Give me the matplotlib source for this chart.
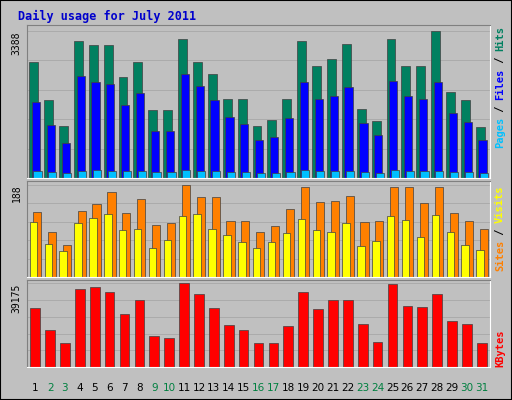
import numpy as np
import matplotlib.pyplot as plt

days = list(range(1, 32))
weekend = [2, 3, 9, 10, 16, 17, 23, 24, 30, 31]

hits = [2674, 1798, 1199, 3158, 3066, 3066, 2328, 2674, 1567, 1567, 3204, 2674, 2397, 1821, 1821, 1199,
        1337, 1821, 3158, 2582, 2743, 3089, 1590, 1314, 3204, 2582, 2582, 3388, 1982, 1798, 1176]
files = [1752, 1222, 807, 2351, 2213, 2167, 1683, 1959, 1083, 1083, 2397, 2121, 1798, 1406, 1245, 876,
         945, 1383, 2213, 1821, 1890, 2098, 1268, 991, 2236, 1890, 1821, 2213, 1498, 1291, 876]
pages = [160, 140, 120, 170, 180, 170, 150, 160, 130, 130, 190, 170, 160, 140, 140, 120,
         120, 140, 180, 160, 160, 170, 130, 120, 190, 160, 160, 170, 140, 140, 120]
visits = [132, 91, 66, 134, 149, 174, 130, 159, 105, 110, 188, 163, 163, 114, 114, 91,
          103, 138, 184, 153, 155, 165, 112, 114, 184, 184, 151, 184, 130, 114, 97]
sites = [112, 68, 52, 110, 120, 128, 95, 97, 60, 76, 124, 128, 97, 85, 72, 60,
         72, 89, 118, 95, 91, 110, 64, 74, 124, 116, 81, 126, 91, 66, 56]
kbytes = [27566, 17410, 11123, 36754, 37237, 35303, 24664, 31434, 14508, 13541, 39175, 34336, 27566,
          19828, 17410, 11123, 11123, 19344, 35303, 27082, 31434, 31434, 20311, 11606, 38688, 28532,
          28049, 34336, 21762, 20311, 11123]

W, H = 512, 400
bg = '#C0C0C0'
fig = plt.figure(figsize=(W / 100, H / 100), dpi=100, facecolor=bg)
mono = 'DejaVu Sans Mono'

def mkax(top, bottom, vmax):
    ax = fig.add_axes([27 / W, 1 - bottom / H, 463 / W, (bottom - top) / H], facecolor=bg)
    ax.set_xlim(0.45, 31.55)
    ax.set_ylim(0, vmax * 1.04)
    ax.set_xticks([])
    ax.set_yticks([])
    for y in np.linspace(0, vmax, 6)[1:]:
        ax.axhline(y, color='#a8a8a8', lw=0.6, zorder=0)
    for s in ax.spines.values():
        s.set_color('#808080')
    ax.spines['bottom'].set_color('white')
    ax.spines['right'].set_color('white')
    ax.text(-0.022, 1 - 0.04 * 1.0, str(vmax), transform=ax.transAxes, rotation=90,
            ha='center', va='top', fontsize=7, family=mono)
    return ax

x = np.array(days)
ek = dict(edgecolor='#404040', linewidth=0.5)

ax1 = mkax(25, 178, 3388)
ax1.bar(x - 0.1, hits, width=0.6, color='#008060', **ek)
ax1.bar(x + 0.05, files, width=0.55, color='#0000FF', **ek)
ax1.bar(x + 0.15, pages, width=0.55, color='#00C0FF', **ek)

ax2 = mkax(181, 277, 188)
ax2.bar(x + 0.12, visits, width=0.55, color='#FF8000', **ek)
ax2.bar(x - 0.12, sites, width=0.5, color='#FFFF00', **ek)

ax3 = mkax(280, 367, 39175)
ax3.bar(x, kbytes, width=0.65, color='#FF0000', **ek)

for d in days:
    fig.text((27 + 463 * (d - 0.45) / 31.1) / W, 1 - 388 / H, str(d), ha='center', va='center',
             fontsize=7.5, color='#008040' if d in weekend else 'black')

fig.text(18 / W, 1 - 16 / H, 'Daily usage for July 2011', color='#0000CC', fontsize=8.5,
         fontweight='bold', family=mono, va='center')

def side(parts, top, bottom):
    # stack colored words upward from bottom
    y = bottom
    step = 6.1
    for txt, col in parts:
        n = len(txt)
        fig.text(500 / W, 1 - (y - n * step / 2) / H, txt, rotation=90, color=col, fontsize=7.5,
                 fontweight='bold', family=mono, ha='center', va='center')
        y -= n * step

side([('Pages', '#00C0FF'), (' / ', 'black'), ('Files', '#0000FF'), (' / ', 'black'), ('Hits', '#008060')], 25, 148)
side([('Sites', '#FF8000'), (' / ', 'black'), ('Visits', '#FFFF00')], 181, 271)
side([('KBytes', '#FF0000')], 280, 367)

fig.patches.append(plt.Rectangle((0, 0), 1, 1, transform=fig.transFigure, fill=False,
                                 edgecolor='black', lw=1.5))
fig.savefig('out.png', dpi=100, facecolor=bg)
